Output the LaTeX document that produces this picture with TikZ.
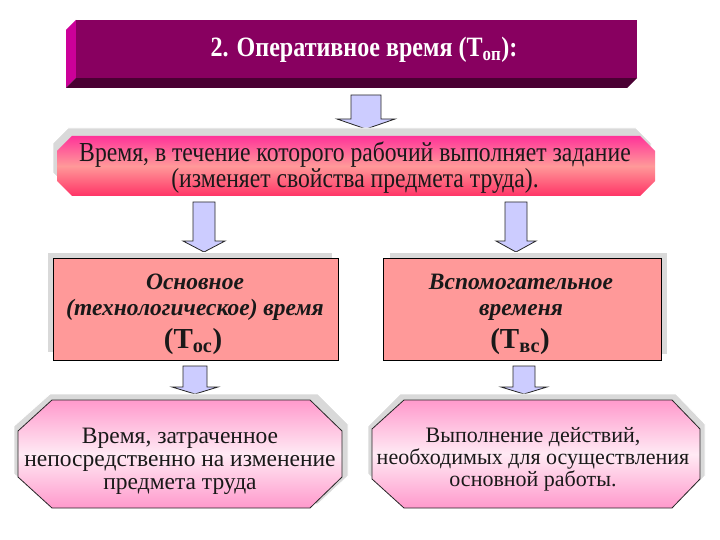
\documentclass[tikz,border=0pt]{standalone}
\usepackage{fontspec}
\setmainfont{Liberation Serif}
\newfontfamily\narrowserif[FakeStretch=0.86]{Liberation Serif}
\definecolor{hdfront}{HTML}{880060}
\definecolor{hdleft}{HTML}{CC0099}
\definecolor{hdbottom}{HTML}{4A0033}
\definecolor{lav}{HTML}{CCCCFF}
\definecolor{salmon}{HTML}{FF9999}
\definecolor{shadowgrey}{HTML}{D9D9D9}
\definecolor{hotpink}{HTML}{FF3399}
\definecolor{hotpinkb}{HTML}{FF3366}
\definecolor{softpink}{HTML}{FF99CC}
\definecolor{palepink}{HTML}{FFEAF4}
\newcommand\myblockarrow[7]{% name, cx, top, headY, tip, shaft half, head half
  \coordinate (#1) at (#2,#5);
  \draw[blockarrow] (#2-#6,#3) -- (#2+#6,#3) -- (#2+#6,#4) -- (#2+#7,#4)
    -- (#1) -- (#2-#7,#4) -- (#2-#6,#4) -- cycle;}
\begin{document}
\begin{tikzpicture}[x=1pt,y=-1pt,
  blockarrow/.style={fill=lav,draw=black!85,line width=0.8pt,line join=miter},
  shadowshape/.style={fill=shadowgrey,draw=white,line width=0.8pt},
  rectbox/.style={fill=salmon,draw=black,line width=0.8pt},
  hotbox/.style={top color=hotpink,bottom color=hotpinkb,middle color=salmon},
  softbox/.style={top color=softpink,bottom color=softpink,middle color=palepink,draw=black!85,line width=0.8pt},
  boxtext/.style={align=center,text=black!90,inner sep=0pt}]
\useasboundingbox (0,0) rectangle (720,540);

% header bar
\fill[hdleft] (66,30) -- (76,20) -- (76,78) -- (66,88) -- cycle;
\fill[hdbottom] (66,88) -- (76,78) -- (637,78) -- (627,88) -- cycle;
\fill[hdfront] (76,20) rectangle (637,78);
\node[text=white,font=\narrowserif\fontsize{28}{30}\selectfont\bfseries,inner sep=0pt] (title) at (364,50)
  {2. Оперативное время (Т\textsubscript{оп}):};

% arrow 1
\myblockarrow{a1}{366}{95}{119}{129}{15}{29}

% box 2
\path[shadowshape] (68,128) -- (636,128) -- (651,143) -- (651,173) -- (636,188)
  -- (68,188) -- (53,173) -- (53,143) -- cycle;
\path[hotbox] (72,136) -- (640,136) -- (655,151) -- (655,181) -- (640,196)
  -- (72,196) -- (57,181) -- (57,151) -- cycle;
\node[boxtext,font=\narrowserif\fontsize{27.5}{26}\selectfont] (def) at (355,168)
  {Время, в течение которого рабочий выполняет задание\\(изменяет свойства предмета труда).};

% arrows 2
\myblockarrow{a2l}{204}{202}{241}{252}{11}{21}
\myblockarrow{a2r}{516}{202}{241}{252}{11}{20}

% box 3 left
\draw[shadowshape] (47,252) rectangle (332,352);
\draw[rectbox] (53,258) rectangle (338,360);
\node[boxtext,font=\fontsize{23.5}{26}\selectfont\bfseries\itshape] (main) at (195,297)
  {Основное\\(технологическое) время};
\node[boxtext,font=\fontsize{29}{30}\selectfont\bfseries] (mainT) at (193,342)
  {(Т\textsubscript{ос})};

% box 3 right
\draw[shadowshape] (389,252) rectangle (667,354);
\draw[rectbox] (383,258) rectangle (661,360);
\node[boxtext,font=\fontsize{23.5}{26}\selectfont\bfseries\itshape] (aux) at (521,297)
  {Вспомогательное\\временя};
\node[boxtext,font=\fontsize{29}{30}\selectfont\bfseries] (auxT) at (520,342)
  {(Т\textsubscript{вс})};

% arrows 3
\myblockarrow{a3l}{195}{366}{387}{394}{12}{23}
\myblockarrow{a3r}{524}{366}{387}{394}{11}{23}

% box 4 left
\draw[shadowshape] (50,394) -- (318,394) -- (348,424) -- (348,476) -- (318,504)
  -- (48,504) -- (14,474) -- (14,426) -- cycle;
\draw[softbox] (52,400) -- (310,400) -- (342,431) -- (342,477) -- (310,508)
  -- (52,508) -- (18,477) -- (18,431) -- cycle;
\node[boxtext,font=\fontsize{23.5}{23}\selectfont] (direct) at (180,461)
  {Время, затраченное\\непосредственно на изменение\\предмета труда};

% box 4 right
\draw[shadowshape] (400,394) -- (676,394) -- (705,424) -- (705,476) -- (676,504)
  -- (400,504) -- (368,474) -- (368,426) -- cycle;
\draw[softbox] (404,400) -- (672,400) -- (700,429) -- (700,479) -- (672,508)
  -- (404,508) -- (372,479) -- (372,429) -- cycle;
\node[boxtext,font=\fontsize{22}{22}\selectfont] (actions) at (533,459)
  {Выполнение действий,\\необходимых для осуществления\\основной работы.};
\end{tikzpicture}
\end{document}
